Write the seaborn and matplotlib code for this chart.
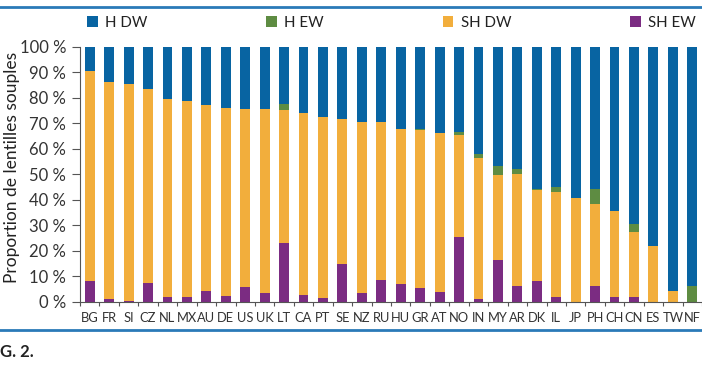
import matplotlib
matplotlib.use("Agg")
import matplotlib.pyplot as plt
import seaborn as sns
import numpy as np
from matplotlib.patches import Patch
from matplotlib.lines import Line2D

# données (en %)
countries = ["BG", "FR", "SI", "CZ", "NL", "MX", "AU", "DE", "US", "UK", "LT", "CA",
             "PT", "SE", "NZ", "RU", "HU", "GR", "AT", "NO", "IN", "MY", "AR", "DK",
             "IL", "JP", "PH", "CH", "CN", "ES", "TW", "NF"]
sh_ew = [8.2, 1.0, 0.3, 7.5, 1.8, 1.8, 4.5, 2.5, 5.7, 3.4, 23.1, 2.6,
         1.7, 14.9, 3.4, 8.8, 7.0, 5.6, 4.0, 25.3, 1.3, 16.6, 6.1, 8.2,
         2.1, 0.0, 6.1, 1.8, 1.8, 0.0, 0.0, 0.0]
sh_dw = [82.3, 85.0, 85.0, 75.9, 77.8, 76.8, 72.5, 73.5, 70.0, 72.1, 52.1, 71.4,
         70.8, 56.8, 67.1, 61.6, 60.9, 61.7, 62.2, 40.0, 55.2, 33.1, 43.9, 35.8,
         40.8, 40.6, 32.3, 33.8, 25.7, 22.1, 4.3, 0.0]
h_ew = [0, 0, 0, 0, 0, 0, 0, 0, 0, 0, 2.5, 0,
        0, 0, 0, 0, 0, 0.6, 0, 1.3, 1.6, 3.5, 2.2, 0.4,
        2.3, 0, 5.7, 0, 3.0, 0, 0, 6.1]
h_dw = [9.5, 14.0, 14.7, 16.6, 20.4, 21.4, 23.0, 24.0, 24.3, 24.5, 22.3, 26.0,
        27.5, 28.3, 29.5, 29.6, 32.1, 32.1, 33.8, 33.4, 41.9, 46.8, 47.8, 55.6,
        54.8, 59.4, 55.9, 64.4, 69.5, 77.9, 95.7, 93.9]

series = ["H DW", "H EW", "SH DW", "SH EW"]
colors = {"H DW": "#0864a2", "H EW": "#5e8c42", "SH DW": "#f2ae3c", "SH EW": "#7b2c82"}

plt.rcParams['font.family'] = ['Lato', 'DejaVu Sans']

fig = plt.figure(figsize=(7.02, 3.70), dpi=100)
ax = fig.add_axes([80 / 702, 68 / 370, 622 / 702, 255.4 / 370])

# barres empilées : on dessine les cumuls du haut vers le bas
stack = [sh_ew, sh_dw, h_ew, h_dw]
cum = np.cumsum(np.array(stack), axis=0)
for level, name in zip(range(3, -1, -1), series):
    sns.barplot(x=countries, y=cum[level], color=colors[name], width=0.51,
                saturation=1, ax=ax, order=countries)

ax.set_xlim(-0.5, 31.2)
ax.set_ylim(0, 100)
ax.set_yticks(np.arange(0, 101, 10))
ax.set_yticklabels([f"{v} %" for v in range(0, 101, 10)], fontsize=12, color="#333333")
ax.set_xticks(range(len(countries)))
ax.set_xticklabels(countries, fontsize=9.3, color="#333333")
ax.set_xticks(np.arange(-0.5, len(countries), 1), minor=True)
ax.tick_params(axis="x", which="major", length=0, pad=7)
ax.tick_params(axis="x", which="minor", length=3, width=0.8, color="#555555")
ax.tick_params(axis="y", length=6, width=0.8, color="#555555", pad=4)
for s in ["top", "right"]:
    ax.spines[s].set_visible(False)
for s in ["left", "bottom"]:
    ax.spines[s].set_color("#555555")
    ax.spines[s].set_linewidth(0.8)
ax.set_xlabel("")
ax.set_ylabel("Proportion de lentilles souples", fontsize=12.5, color="#222222")
ax.yaxis.set_label_coords(-0.096, 0.527)

handles = [Patch(facecolor=colors[n], edgecolor="none") for n in series]
fig.legend(handles, series, loc="center left", bbox_to_anchor=(87 / 702, 1 - 23 / 370),
           ncol=4, frameon=False, fontsize=10.8, handlelength=0.72, handleheight=0.72,
           handletextpad=0.5, columnspacing=7.9, borderpad=0, borderaxespad=0,
           labelcolor="#222222")

# filets bleus du cadre
for y in [1 - 7 / 370, 1 - 329.5 / 370]:
    fig.add_artist(Line2D([0, 1], [y, y], transform=fig.transFigure, color="#2a7ab8", lw=2))

fig.text(0.0, 1 - 352 / 370, "G. 2.", fontsize=12, fontweight="bold", color="#222222",
         ha="left", va="center")

plt.savefig("out.png", dpi=100)
